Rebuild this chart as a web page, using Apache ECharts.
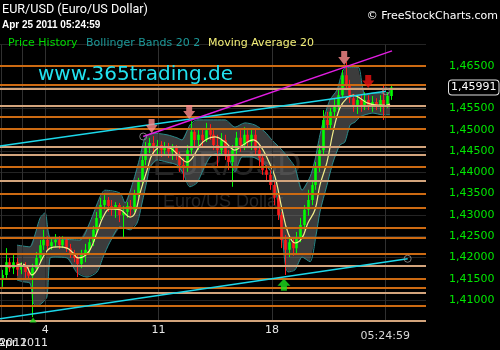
<!DOCTYPE html>
<html><head><meta charset="utf-8">
<script src="https://cdn.jsdelivr.net/npm/echarts@6/dist/echarts.min.js"></script>
<style>html,body{margin:0;padding:0;background:#000}#c{width:500px;height:350px}</style>
</head><body><div id="c"></div>
<script>
// 4-hour candles from Mar 31 2011 (x = trading days since Mar 31 00:00): [open, close, low, high]
const candles = [
[1.4147,1.4159,1.4131,1.4171],[1.4159,1.4189,1.4152,1.4222],[1.4189,1.4175,1.4166,1.4199],[1.4175,1.4189,1.4161,1.4206],
[1.4189,1.4171,1.4157,1.4199],[1.4171,1.4180,1.4161,1.4189],[1.4180,1.4166,1.4152,1.4189],[1.4166,1.4157,1.4147,1.4180],
[1.4157,1.4175,1.4060,1.4185],[1.4175,1.4199,1.4171,1.4213],[1.4199,1.4229,1.4189,1.4241],[1.4229,1.4241,1.4218,1.4265],
[1.4241,1.4227,1.4218,1.4250],[1.4227,1.4236,1.4218,1.4246],[1.4236,1.4241,1.4225,1.4255],[1.4241,1.4229,1.4220,1.4250],
[1.4229,1.4241,1.4222,1.4250],[1.4241,1.4222,1.4213,1.4246],[1.4222,1.4208,1.4199,1.4232],[1.4208,1.4199,1.4189,1.4218],
[1.4199,1.4185,1.4154,1.4208],[1.4185,1.4206,1.4175,1.4218],[1.4206,1.4218,1.4189,1.4232],[1.4218,1.4236,1.4208,1.4246],
[1.4236,1.4265,1.4227,1.4274],[1.4265,1.4293,1.4255,1.4307],[1.4293,1.4323,1.4288,1.4340],[1.4323,1.4335,1.4312,1.4349],
[1.4335,1.4321,1.4307,1.4342],[1.4321,1.4312,1.4298,1.4335],[1.4312,1.4323,1.4293,1.4330],[1.4323,1.4300,1.4283,1.4328],
[1.4300,1.4307,1.4246,1.4321],[1.4307,1.4321,1.4293,1.4330],[1.4321,1.4312,1.4298,1.4335],[1.4312,1.4347,1.4307,1.4359],
[1.4347,1.4377,1.4340,1.4387],[1.4377,1.4429,1.4368,1.4441],[1.4429,1.4457,1.4417,1.4471],[1.4457,1.4469,1.4445,1.4481],
[1.4469,1.4457,1.4443,1.4485],[1.4457,1.4464,1.4438,1.4476],[1.4464,1.4452,1.4436,1.4473],[1.4452,1.4462,1.4441,1.4471],
[1.4462,1.4448,1.4434,1.4469],[1.4448,1.4457,1.4429,1.4466],[1.4457,1.4441,1.4429,1.4464],[1.4441,1.4417,1.4401,1.4448],
[1.4417,1.4410,1.4382,1.4434],[1.4410,1.4452,1.4401,1.4464],[1.4452,1.4495,1.4441,1.4520],[1.4495,1.4476,1.4457,1.4504],
[1.4476,1.4488,1.4452,1.4499],[1.4488,1.4476,1.4459,1.4504],[1.4476,1.4499,1.4471,1.4516],[1.4499,1.4488,1.4476,1.4513],
[1.4488,1.4464,1.4452,1.4499],[1.4464,1.4452,1.4412,1.4488],[1.4452,1.4476,1.4441,1.4492],[1.4476,1.4441,1.4429,1.4488],
[1.4441,1.4424,1.4405,1.4452],[1.4424,1.4452,1.4366,1.4464],[1.4452,1.4481,1.4441,1.4495],[1.4481,1.4464,1.4448,1.4499],
[1.4464,1.4488,1.4452,1.4506],[1.4488,1.4471,1.4457,1.4499],[1.4471,1.4488,1.4452,1.4499],[1.4488,1.4452,1.4441,1.4502],
[1.4452,1.4434,1.4412,1.4464],[1.4434,1.4405,1.4394,1.4441],[1.4405,1.4394,1.4377,1.4417],[1.4394,1.4370,1.4359,1.4405],
[1.4370,1.4340,1.4323,1.4382],[1.4340,1.4300,1.4288,1.4347],[1.4300,1.4241,1.4222,1.4307],[1.4241,1.4218,1.4159,1.4253],
[1.4218,1.4236,1.4201,1.4250],[1.4236,1.4222,1.4204,1.4246],[1.4222,1.4246,1.4206,1.4260],[1.4246,1.4276,1.4236,1.4293],
[1.4276,1.4312,1.4265,1.4323],[1.4312,1.4335,1.4298,1.4359],[1.4335,1.4370,1.4323,1.4382],[1.4370,1.4410,1.4359,1.4424],
[1.4410,1.4452,1.4401,1.4464],[1.4452,1.4523,1.4441,1.4546],[1.4523,1.4511,1.4499,1.4542],[1.4511,1.4542,1.4499,1.4551],
[1.4542,1.4558,1.4527,1.4574],[1.4558,1.4581,1.4546,1.4593],[1.4581,1.4628,1.4574,1.4640],[1.4628,1.4605,1.4593,1.4659],
[1.4605,1.4574,1.4563,1.4617],[1.4574,1.4558,1.4542,1.4584],[1.4558,1.4570,1.4537,1.4579],[1.4570,1.4556,1.4542,1.4581],
[1.4556,1.4570,1.4546,1.4588],[1.4570,1.4558,1.4546,1.4581],[1.4558,1.4565,1.4542,1.4579],[1.4565,1.4556,1.4546,1.4574],
[1.4556,1.4570,1.4542,1.4581],[1.4570,1.4560,1.4523,1.4605],[1.4560,1.4579,1.4551,1.4588],[1.4579,1.4599,1.4570,1.4605]
];
const barDays = 4 / 24;

const maPts = [[0.75,1.4182],[0.97,1.4185],[1.19,1.4178],[1.41,1.4159],[1.63,1.4171],[1.90,1.4201],[2.21,1.4222],[2.56,1.4225],[2.96,1.4222],[3.22,1.4211],[3.44,1.4199],[3.66,1.4201],[3.97,1.4218],[4.28,1.4258],[4.55,1.4295],[4.85,1.4314],[5.30,1.4312],[5.74,1.4295],[5.96,1.4305],[6.18,1.4351],[6.49,1.4405],[6.75,1.4445],[7.15,1.4459],[7.50,1.4457],[7.94,1.4436],[8.25,1.4424],[8.52,1.4436],[8.83,1.4464],[9.14,1.4478],[9.49,1.4483],[9.93,1.4471],[10.37,1.4452],[10.72,1.4464],[11.17,1.4476],[11.47,1.4464],[11.83,1.4429],[12.14,1.4389],[12.45,1.4312],[12.71,1.4258],[13.02,1.4234],[13.33,1.4246],[13.59,1.4281],[13.90,1.4312],[14.12,1.4370],[14.43,1.4424],[14.70,1.4495],[15.00,1.4551],[15.31,1.4574],[15.58,1.4581],[15.89,1.4574],[16.20,1.4563],[16.64,1.4558],[17.08,1.4558],[17.21,1.4560]];

const bbUpper = [[0.75,1.4229],[1.32,1.4225],[1.54,1.4253],[1.77,1.4293],[1.99,1.4305],[2.21,1.4246],[2.78,1.4243],[3.53,1.4241],[3.97,1.4283],[4.41,1.4342],[4.63,1.4358],[5.30,1.4351],[5.52,1.4328],[5.87,1.4377],[6.18,1.4436],[6.40,1.4481],[6.75,1.4492],[7.37,1.4488],[7.81,1.4481],[8.03,1.4476],[8.38,1.4511],[8.69,1.4523],[9.27,1.4523],[9.93,1.4523],[10.37,1.4506],[10.81,1.4516],[11.25,1.4511],[11.69,1.4495],[12.00,1.4476],[12.45,1.4452],[12.80,1.4429],[13.02,1.4412],[13.33,1.4358],[13.68,1.4389],[13.90,1.4429],[14.12,1.4488],[14.34,1.4535],[14.56,1.4570],[14.87,1.4593],[15.22,1.4645],[15.80,1.4647],[15.98,1.4605],[16.11,1.4581],[16.46,1.4586],[16.90,1.4586],[17.21,1.4588]];

const bbLower = [[0.75,1.4147],[1.02,1.4143],[1.32,1.4140],[1.41,1.4117],[1.46,1.4093],[1.63,1.4086],[1.85,1.4093],[2.07,1.4107],[2.21,1.4199],[2.43,1.4201],[2.96,1.4199],[3.40,1.4164],[3.84,1.4154],[4.28,1.4166],[4.55,1.4201],[4.85,1.4236],[5.30,1.4272],[5.74,1.4265],[6.05,1.4281],[6.27,1.4328],[6.49,1.4382],[6.62,1.4412],[6.93,1.4429],[7.37,1.4424],[7.81,1.4417],[8.08,1.4398],[8.38,1.4366],[8.69,1.4375],[8.96,1.4405],[9.27,1.4436],[9.62,1.4445],[10.06,1.4436],[10.37,1.4401],[10.68,1.4436],[11.12,1.4436],[11.56,1.4424],[12.00,1.4398],[12.22,1.4342],[12.45,1.4258],[12.58,1.4187],[12.71,1.4166],[13.02,1.4171],[13.33,1.4201],[13.68,1.4190],[13.95,1.4253],[14.12,1.4307],[14.43,1.4370],[14.70,1.4424],[15.00,1.4464],[15.22,1.4471],[15.45,1.4511],[15.67,1.4518],[15.89,1.4530],[16.11,1.4535],[16.46,1.4539],[16.86,1.4535],[17.21,1.4535]];

const orangeLevels = [1.46502,1.46056,1.45305,1.45016,1.44132,1.43491,1.43169,1.42700,1.42465,1.42099,1.41503,1.41292,1.40869];
const tanLevels = [1.45962,1.45563,1.44601,1.44413,1.43803,1.41808,1.41174,1.40517];

const trendUpper = [[0, 1.4462], [17.03, 1.4590]];
const trendLower = [[0, 1.4056], [17.99, 1.4197]];
const trendMagenta = [[6.32, 1.4484], [17.30, 1.4685]];
const anchorCircles = [[6.32, 1.4484], [17.03, 1.4590], [17.99, 1.4197]];

const pinkArrows = [[6.69, 1.4492], [8.35, 1.4525], [15.19, 1.4652]];
const redArrows = [[16.25, 1.4598]];
const greenArrows = [[12.53, 1.4150]];
const greenMarks = [[1.46, 1.4053]];

const currentPrice = 1.45991;
const yTicks = [1.410, 1.415, 1.420, 1.425, 1.430, 1.435, 1.440, 1.445, 1.450, 1.455, 1.465];
const xTickDays = [2, 7, 12];
const xTickLabels = ['4', '11', '18'];
const monthDays = [0.05, 1];
const monthLabels = ['Mar 2011', 'Apr 2011'];
const timeDays = [17];
const timeLabels = ['05:24:59'];
const vGridDays = [0.05, 1, 2, 7, 12, 17];

const FONT = '"DejaVu Sans", Verdana, sans-serif';
const fmtP = v => v.toFixed(5).replace('.', ',');
const lookup = (vals, labels) => v => { const i = vals.findIndex(d => Math.abs(d - v) < 1e-6); return i < 0 ? '' : labels[i]; };

const chart = echarts.init(document.getElementById('c'));
const downArrow = 'path://M3,0 H9 V6 H12 L6,14 L0,6 H3 Z';
const upArrow = 'path://M6.5,0 L13,7 H9.5 V12 H3.5 V7 H0 Z';

function xAxisRow(vals, labels, margin, color) {
  return { type: 'value', min: 0, max: 18.8, gridIndex: 0, position: 'bottom', offset: 0,
    axisLine: { show: false }, axisTick: { show: false }, splitLine: { show: false },
    axisLabel: { customValues: vals, formatter: lookup(vals, labels), color: color, fontFamily: FONT, fontSize: 11, margin: margin, hideOverlap: false, showMinLabel: true, showMaxLabel: true } };
}

chart.setOption({
  backgroundColor: '#000',
  animation: false,
  grid: { left: 0, width: 426, top: 44.5, bottom: 28.6, containLabel: false, outerBoundsMode: 'none' },
  xAxis: [
    xAxisRow(xTickDays, xTickLabels, 3, '#e8e8e8'),
    xAxisRow([monthDays[0]], [monthLabels[0]], 16, '#e8e8e8'),
    xAxisRow([monthDays[1]], [monthLabels[1]], 16, '#e8e8e8'),
    xAxisRow(timeDays, timeLabels, 9, '#d8d8d8')
  ],
  yAxis: { type: 'value', position: 'right', min: 1.405, max: 1.470, interval: 0.005,
    axisLine: { show: false }, axisTick: { show: false },
    splitLine: { show: true, lineStyle: { color: '#242424', width: 1 } },
    axisLabel: { customValues: yTicks, formatter: fmtP, color: '#00e600', fontFamily: FONT, fontSize: 11, margin: 23 } },
  graphic: [
    { type: 'text', z: 0, style: { text: 'EUR/USD', x: 227, y: 166, textAlign: 'center', textVerticalAlign: 'middle', fill: '#262626', font: '33px "Liberation Sans", Arial, sans-serif' } },
    { type: 'text', z: 0, style: { text: 'Euro/US Dollar', x: 223, y: 202, textAlign: 'center', textVerticalAlign: 'middle', fill: '#262626', font: '18px "Liberation Sans", Arial, sans-serif' } },
    { type: 'text', z: 100, style: { text: 'EUR/USD (Euro/US Dollar)', x: 2, y: 10, textVerticalAlign: 'middle', fill: '#ffffff', font: '12.6px "Roboto", "Liberation Sans", sans-serif' } },
    { type: 'text', z: 100, style: { text: 'Apr 25 2011 05:24:59', x: 2, y: 25, textVerticalAlign: 'middle', fill: '#ffffff', font: 'bold 10px "Liberation Sans", Arial, sans-serif' } },
    { type: 'text', z: 100, style: { text: '\u00a9 FreeStockCharts.com', x: 498, y: 16, textAlign: 'right', textVerticalAlign: 'middle', fill: '#ffffff', font: '11px ' + FONT } },
    { type: 'text', z: 100, style: { text: 'Price History', x: 8, y: 43, textVerticalAlign: 'middle', fill: '#00dd00', font: '11px ' + FONT } },
    { type: 'text', z: 100, style: { text: 'Bollinger Bands 20 2', x: 86, y: 43, textVerticalAlign: 'middle', fill: '#1c9a9a', font: '11px ' + FONT } },
    { type: 'text', z: 100, style: { text: 'Moving Average 20', x: 208, y: 43, textVerticalAlign: 'middle', fill: '#f4f078', font: '11px ' + FONT } },
    { type: 'text', z: 100, style: { text: 'www.365trading.de', x: 38, y: 75, textVerticalAlign: 'middle', fill: '#22e2f0', font: '20px ' + FONT } }
  ],
  series: [
    { type: 'custom', name: 'bandFill', z: 1, clip: true, data: [[0, 1.43]],
      renderItem: (params, api) => {
        const pts = bbUpper.map(d => api.coord(d)).concat(bbLower.slice().reverse().map(d => api.coord(d)));
        return { type: 'polygon', shape: { points: pts }, style: { fill: 'rgba(120,120,120,0.5)' } };
      },
      markLine: { silent: true, symbol: 'none', precision: 6, label: { show: false },
        lineStyle: { color: '#303030', width: 1, type: 'solid' },
        data: vGridDays.map(d => ({ xAxis: d })) } },
    { type: 'line', name: 'bbUpper', z: 2, data: bbUpper, showSymbol: false, smooth: 0.25,
      lineStyle: { color: '#2a8c8c', width: 1 } },
    { type: 'line', name: 'bbLower', z: 2, data: bbLower, showSymbol: false, smooth: 0.25,
      lineStyle: { color: '#2a8c8c', width: 1 } },
    { type: 'custom', name: 'Price History', z: 3, clip: true,
      data: candles.map((d, i) => [i * barDays + barDays / 2].concat(d)),
      encode: { x: 0, y: [1, 2, 3, 4] },
      renderItem: (params, api) => {
        const t = api.value(0), o = api.value(1), c = api.value(2), l = api.value(3), h = api.value(4);
        const pO = api.coord([t, o]), pC = api.coord([t, c]), pL = api.coord([t, l]), pH = api.coord([t, h]);
        const col = c >= o ? '#00ff00' : '#ff1a1a';
        const x = Math.round(pO[0]) + 0.5;
        const w = 2.6;
        return { type: 'group', children: [
          { type: 'line', shape: { x1: x, y1: pL[1], x2: x, y2: pH[1] }, style: { stroke: col, lineWidth: 1 } },
          { type: 'rect', shape: { x: x - w / 2, y: Math.min(pO[1], pC[1]), width: w, height: Math.max(1, Math.abs(pO[1] - pC[1])) }, style: { fill: col } }
        ] };
      } },
    { type: 'line', name: 'Moving Average 20', z: 4, data: maPts, showSymbol: false, smooth: 0.4,
      lineStyle: { color: '#f4ef8a', width: 1.2 },
      markLine: { silent: true, symbol: 'none', precision: 6, label: { show: false },
        data: orangeLevels.map(v => ({ yAxis: v, lineStyle: { color: '#cc6a12', width: 2, type: 'solid' } }))
          .concat(tanLevels.map(v => ({ yAxis: v, lineStyle: { color: '#d3a47c', width: 2, type: 'solid' } })))
          .concat([{ yAxis: currentPrice, lineStyle: { color: 'rgba(0,0,0,0)', width: 0 },
            label: { show: true, position: 'end', distance: 23, formatter: fmtP(currentPrice), color: '#ffffff', backgroundColor: '#000', borderColor: '#e0e0e0', borderWidth: 1, borderRadius: 3, padding: [2, 2, 1, 2], fontFamily: FONT, fontSize: 11 } }]) } },
    { type: 'line', z: 6, data: trendUpper, showSymbol: false, lineStyle: { color: '#1cd8ea', width: 1.5 } },
    { type: 'line', z: 6, data: trendLower, showSymbol: false, lineStyle: { color: '#1cd8ea', width: 1.5 } },
    { type: 'line', z: 6, data: trendMagenta, showSymbol: false, lineStyle: { color: '#e21ee2', width: 1.5 } },
    { type: 'scatter', z: 7, data: anchorCircles, symbol: 'circle', symbolSize: 7,
      itemStyle: { color: 'rgba(0,0,0,0)', borderColor: '#999', borderWidth: 1 } },
    { type: 'scatter', z: 8, data: pinkArrows, symbol: downArrow, symbolSize: [12, 14], symbolOffset: [0, '-50%'], itemStyle: { color: '#ff8c8c' } },
    { type: 'scatter', z: 8, data: redArrows, symbol: downArrow, symbolSize: [12, 13], symbolOffset: [0, '-50%'], itemStyle: { color: '#ee1111' } },
    { type: 'scatter', z: 8, data: greenArrows, symbol: upArrow, symbolSize: [13, 12], symbolOffset: [0, '50%'], itemStyle: { color: '#1ee01e' } },
    { type: 'scatter', z: 8, data: greenMarks, symbol: 'triangle', symbolSize: [7, 5], itemStyle: { color: '#1ee01e' } }
  ]
});
</script></body></html>
